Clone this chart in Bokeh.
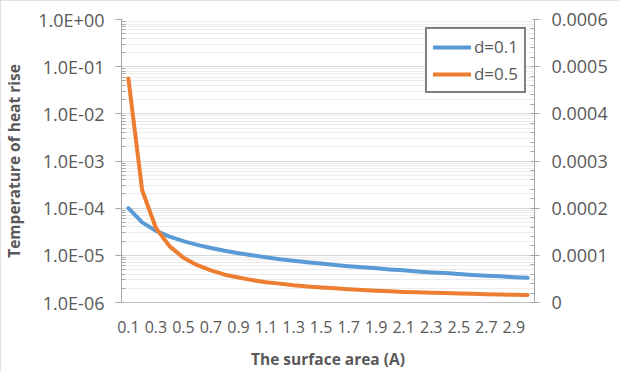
import numpy as np
from bokeh.plotting import figure
from bokeh.models import (Range1d, LinearAxis, LinearScale, FixedTicker, CustomJSTickFormatter,
                          Legend, LegendItem)
from bokeh.embed import file_html
from bokeh.resources import INLINE

# ---- data ----
area = [0.1, 0.2, 0.3, 0.4, 0.5, 0.6, 0.7, 0.8, 0.9, 1.0,
        1.1, 1.2, 1.3, 1.4, 1.5, 1.6, 1.7, 1.8, 1.9, 2.0,
        2.1, 2.2, 2.3, 2.4, 2.5, 2.6, 2.7, 2.8, 2.9, 3.0]
x_labels = ["0.1", "0.3", "0.5", "0.7", "0.9", "1.1", "1.3", "1.5",
            "1.7", "1.9", "2.1", "2.3", "2.5", "2.7", "2.9"]
d01 = [1.0e-4, 5.0e-5, 3.3e-5, 2.5e-5, 2.0e-5, 1.67e-5, 1.43e-5, 1.25e-5, 1.11e-5, 1.0e-5,
       9.1e-6, 8.3e-6, 7.7e-6, 7.1e-6, 6.7e-6, 6.25e-6, 5.9e-6, 5.6e-6, 5.3e-6, 5.0e-6,
       4.8e-6, 4.55e-6, 4.35e-6, 4.2e-6, 4.0e-6, 3.85e-6, 3.7e-6, 3.6e-6, 3.45e-6, 3.33e-6]
d05 = [4.75e-4, 2.38e-4, 1.58e-4, 1.19e-4, 9.5e-5, 7.9e-5, 6.8e-5, 5.9e-5, 5.3e-5, 4.75e-5,
       4.3e-5, 4.0e-5, 3.65e-5, 3.4e-5, 3.2e-5, 3.0e-5, 2.8e-5, 2.65e-5, 2.5e-5, 2.4e-5,
       2.25e-5, 2.15e-5, 2.05e-5, 2.0e-5, 1.9e-5, 1.83e-5, 1.76e-5, 1.7e-5, 1.64e-5, 1.58e-5]
left_ticks = [1e-6, 1e-5, 1e-4, 1e-3, 1e-2, 1e-1, 1.0]
right_ticks = [0.0, 0.0001, 0.0002, 0.0003, 0.0004, 0.0005, 0.0006]

FONT = "Open Sans"
FS = "18px"
XFS = "16px"
TFS = "15.5px"
TXT = "#595959"
AX = "#a6a6a6"

p = figure(width=619, height=372, output_backend="svg", toolbar_location=None,
           y_axis_type="log", x_range=Range1d(0.05, 3.05), y_range=Range1d(1e-6, 1.0),
           min_border_left=121, min_border_right=85, min_border_top=19, min_border_bottom=69)
p.outline_line_color = None
p.background_fill_color = "white"
p.border_fill_color = "white"
p.styles = {"outline": "1px solid #d9d9d9", "outline-offset": "-1px"}

p.extra_y_ranges = {"right": Range1d(0, 0.0006)}
p.extra_y_scales = {"right": LinearScale()}

# x axis
xa = p.xaxis[0]
xa.ticker = FixedTicker(ticks=[float(s) for s in x_labels])
xa.major_label_overrides = {float(s): s for s in x_labels}
xa.major_tick_in = 0
xa.major_tick_out = 0
xa.minor_tick_in = 0
xa.minor_tick_out = 0
xa.axis_line_color = "#bfbfbf"
xa.major_label_standoff = 18
xa.major_label_text_font = FONT
xa.major_label_text_font_size = XFS
xa.major_label_text_color = TXT
xa.axis_label = "The surface area (A)"
xa.axis_label_text_font = FONT
xa.axis_label_text_font_size = TFS
xa.axis_label_text_font_style = "bold"
xa.axis_label_text_color = TXT
xa.axis_label_standoff = 12

# left log axis
minor = [k * t for t in left_ticks[:-1] for k in range(2, 10)]
ya = p.yaxis[0]
ya.ticker = FixedTicker(ticks=left_ticks, minor_ticks=minor)
ya.formatter = CustomJSTickFormatter(code="""
const e = Math.round(Math.log10(tick));
return "1.0E" + (e >= 0 ? "+" : "-") + String(Math.abs(e)).padStart(2, "0");
""")
ya.axis_line_color = AX
ya.major_tick_line_color = AX
ya.minor_tick_line_color = AX
ya.major_tick_out = 6
ya.major_tick_in = 1
ya.minor_tick_in = 4
ya.minor_tick_out = 0
ya.major_label_standoff = 11
ya.major_label_text_font = FONT
ya.major_label_text_font_size = FS
ya.major_label_text_color = TXT
ya.axis_label = "Temperature of heat rise"
ya.axis_label_text_font = FONT
ya.axis_label_text_font_size = TFS
ya.axis_label_text_font_style = "bold"
ya.axis_label_text_color = TXT
ya.axis_label_standoff = 10

# right linear axis
ra = LinearAxis(y_range_name="right")
ra.ticker = FixedTicker(ticks=right_ticks,
                        minor_ticks=[i * 0.00002 for i in range(31)])
ra.formatter = CustomJSTickFormatter(code="return tick == 0 ? '0' : tick.toFixed(4);")
ra.axis_line_color = AX
ra.major_tick_line_color = AX
ra.minor_tick_line_color = AX
ra.major_tick_out = 5
ra.major_tick_in = 2
ra.minor_tick_in = 4
ra.minor_tick_out = 0
ra.major_label_standoff = 12
ra.major_label_text_font = FONT
ra.major_label_text_font_size = FS
ra.major_label_text_color = TXT
p.add_layout(ra, "right")

# grid
p.xgrid.grid_line_color = None
p.ygrid.grid_line_color = "#d9d9d9"
p.ygrid.grid_line_width = 1
p.ygrid.minor_grid_line_color = "#ececec"
p.ygrid.minor_grid_line_width = 1

r1 = p.line(area, d01, line_color="#5B9BD5", line_width=4, line_join="round", line_cap="round")
r2 = p.line(area, d05, line_color="#ED7D31", line_width=4, line_join="round", line_cap="round",
            y_range_name="right")

leg = Legend(items=[LegendItem(label="d=0.1", renderers=[r1]),
                    LegendItem(label="d=0.5", renderers=[r2])])
leg.location = "top_right"
leg.margin = 8
leg.border_line_color = "black"
leg.border_line_width = 2
leg.padding = 6
leg.spacing = 4
leg.glyph_width = 38
leg.glyph_height = 20
leg.label_height = 20
leg.label_standoff = 3
leg.label_text_font = FONT
leg.label_text_font_size = "17px"
leg.label_text_color = TXT
leg.background_fill_color = "white"
leg.background_fill_alpha = 1
p.add_layout(leg)

open("out.html", "w").write(file_html(p, INLINE))
